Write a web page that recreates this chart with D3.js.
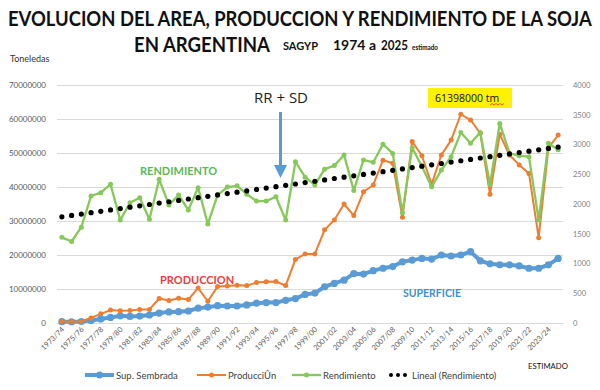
<!DOCTYPE html>
<html><head><meta charset="utf-8">
<script src="https://cdn.jsdelivr.net/npm/d3@7"></script>
<style>
html,body{margin:0;padding:0;background:#fff;}
svg{display:block;font-family:Lato,"Open Sans",sans-serif;}
</style></head>
<body><svg id="c" width="600" height="390"></svg>
<script>
const campaigns = ["1973/74","1974/75","1975/76","1976/77","1977/78","1978/79","1979/80","1980/81","1981/82","1982/83",
"1983/84","1984/85","1985/86","1986/87","1987/88","1988/89","1989/90","1990/91","1991/92","1992/93",
"1993/94","1994/95","1995/96","1996/97","1997/98","1998/99","1999/00","2000/01","2001/02","2002/03",
"2003/04","2004/05","2005/06","2006/07","2007/08","2008/09","2009/10","2010/11","2011/12","2012/13",
"2013/14","2014/15","2015/16","2016/17","2017/18","2018/19","2019/20","2020/21","2021/22","2022/23",
"2023/24","2024/25"];
// Sup. Sembrada (ha)
const supSembrada = [380000,370000,440000,710000,1200000,1640000,2100000,1930000,2040000,2360000,
2920000,3270000,3340000,3530000,4370000,4670000,5100000,5000000,5000000,5320000,
5820000,6010000,6000000,6670000,7180000,8400000,8790000,10660000,11640000,12600000,
14500000,14400000,15400000,16100000,16600000,18000000,18500000,19000000,18800000,20000000,
19700000,20000000,21000000,18300000,17400000,17100000,17100000,16800000,16100000,16100000,
17100000,19000000];
// Producción (t)
const produccion = [450000,400000,500000,1500000,2700000,3800000,3600000,3700000,4000000,4000000,
7200000,6600000,7300000,6900000,10300000,6400000,10700000,10900000,11100000,11000000,
11900000,12100000,12200000,11000000,18700000,20300000,20300000,27400000,30300000,35000000,
31600000,38600000,40600000,47900000,47000000,31100000,53400000,49200000,40800000,49400000,
53800000,61398000,59700000,55800000,37900000,55500000,49400000,46500000,44000000,25100000,
51500000,55300000];
// Rendimiento (kg/ha)
const rendimiento = [1440,1370,1610,2135,2190,2330,1730,2020,2105,1745,
2415,1985,2150,1900,2275,1665,2150,2285,2305,2165,
2050,2050,2120,1730,2710,2450,2320,2585,2645,2825,
2225,2740,2700,3005,2850,1855,2945,2630,2290,2570,
2795,3200,3020,3200,2330,3355,2855,2810,2795,1730,
3020,2910];
const leftTicks = [0,10000000,20000000,30000000,40000000,50000000,60000000,70000000];
const rightTicks = [0,500,1000,1500,2000,2500,3000,3500,4000];
const legendLabels = ["Sup. Sembrada","ProducciÛn","Rendimiento","Lineal (Rendimiento)"];

const C_BLUE="#5b9bd5", C_OR="#ed7d31", C_GR="#86c85a";
const svg = d3.select("#c");
const L=57, R=563, T=85, B=323;

const x = d3.scaleBand().domain(campaigns).range([L,R]).padding(0);
const cx = d => x(d)+x.bandwidth()/2;
const yL = d3.scaleLinear().domain([0,70000000]).range([B,T]);
const yR = d3.scaleLinear().domain([0,4000]).range([B,T]);

// text squeezed horizontally to a given width via transform
function fitText(str, x0, y0, w, size, weight, fill){
  const t = svg.append("text").attr("x",0).attr("y",0).attr("font-size",size)
    .attr("font-weight",weight||400).attr("fill",fill||"#111").text(str);
  const nat = t.node().getComputedTextLength();
  t.attr("transform",`translate(${x0},${y0}) scale(${w/nat},1)`);
  return t;
}

// Title
fitText("EVOLUCION DEL AREA, PRODUCCION Y RENDIMIENTO DE LA SOJA", 8, 26, 584, 21, 700);
fitText("EN ARGENTINA", 134, 52, 136, 21, 700);
fitText("SAGYP", 283, 50, 35, 11, 700);
fitText("1974 a", 333, 50, 43, 14, 700);
fitText("2025", 381, 50, 27, 14, 700);
fitText("estimado", 412, 50, 26, 7.5, 700);
svg.append("text").attr("x",10).attr("y",62).attr("font-size",9).attr("fill","#333").text("Toneledas");

// Gridlines
svg.append("g").attr("transform",`translate(${L},0)`)
  .call(d3.axisLeft(yL).tickValues(leftTicks).tickSize(-(R-L)).tickFormat(""))
  .call(g=>g.select(".domain").remove())
  .call(g=>g.selectAll("line").attr("stroke","#d9d9d9").attr("stroke-width",1));
// Left axis labels
svg.append("g").attr("transform",`translate(49,0)`)
  .call(d3.axisLeft(yL).tickValues(leftTicks).tickSize(0).tickFormat(d3.format("d")))
  .call(g=>g.select(".domain").remove())
  .call(g=>g.selectAll("text").attr("font-size",8).attr("fill","#595959").attr("font-family","Lato,sans-serif"));
// Right axis labels
svg.append("g").attr("transform",`translate(570,0)`)
  .call(d3.axisRight(yR).tickValues(rightTicks).tickSize(0).tickFormat(d3.format("d")))
  .call(g=>g.select(".domain").remove())
  .call(g=>g.selectAll("text").attr("font-size",7.5).attr("fill","#7f7f7f").attr("font-family","Lato,sans-serif"));
// X axis
const xa = svg.append("g").attr("transform",`translate(0,${B})`)
  .call(d3.axisBottom(x).tickValues(campaigns.filter((d,i)=>i%2===0)).tickSize(0))
  .call(g=>g.select(".domain").attr("stroke","#d9d9d9"));
xa.selectAll("text").attr("font-size",7.5).attr("fill","#595959").attr("font-family","Lato,sans-serif")
  .attr("text-anchor","end").attr("dy",null).attr("y",0)
  .attr("transform","translate(3,7) rotate(-45)");

// Series
function series(vals, y, color, lw, r){
  const g = svg.append("g");
  g.append("path").datum(vals).attr("fill","none").attr("stroke",color).attr("stroke-width",lw)
    .attr("stroke-linejoin","round")
    .attr("d", d3.line().x((d,i)=>cx(campaigns[i])).y(d=>y(d)));
  g.selectAll("circle").data(vals).join("circle").attr("cx",(d,i)=>cx(campaigns[i])).attr("cy",d=>y(d))
    .attr("r",r).attr("fill",color);
}
series(supSembrada, yL, C_BLUE, 4, 3.6);
series(produccion, yL, C_OR, 2, 2.5);
series(rendimiento, yR, C_GR, 2.3, 2.5);

// Linear trend of rendimiento
const n = rendimiento.length;
const xm = d3.mean(d3.range(n)), ym = d3.mean(rendimiento);
const slope = d3.sum(d3.range(n),i=>(i-xm)*(rendimiento[i]-ym))/d3.sum(d3.range(n),i=>(i-xm)*(i-xm));
const icpt = ym - slope*xm;
svg.append("g").selectAll("circle").data(d3.range(n)).join("circle")
  .attr("cx",i=>cx(campaigns[i])).attr("cy",i=>yR(icpt+slope*i)).attr("r",2.6).attr("fill","#000");

// Annotations
svg.append("text").attr("x",281).attr("y",103).attr("text-anchor","middle").attr("font-size",15)
  .attr("fill","#222").attr("font-family","'Open Sans',sans-serif").text("RR + SD");
svg.append("line").attr("x1",280.5).attr("x2",280.5).attr("y1",112).attr("y2",167)
  .attr("stroke",C_BLUE).attr("stroke-width",3);
svg.append("path").attr("d","M274,165 L287,165 L280.5,178 Z").attr("fill",C_BLUE);

svg.append("rect").attr("x",428).attr("y",88).attr("width",84).attr("height",20).attr("fill","#fff200");
svg.append("text").attr("x",435).attr("y",102).attr("font-size",10.5).attr("fill","#111")
  .attr("font-family","'Open Sans',sans-serif").text("61398000 tm");
svg.append("path").attr("d","M490,105 l2,-1.5 l2,1.5 l2,-1.5 l2,1.5 l2,-1.5 l2,1.5 l2,-1.5")
  .attr("fill","none").attr("stroke","#e03030").attr("stroke-width",0.8);

svg.append("text").attr("x",140).attr("y",175).attr("font-size",11).attr("font-weight",700)
  .attr("fill","#5cb85c").text("RENDIMIENTO");
svg.append("text").attr("x",160).attr("y",284).attr("font-size",11).attr("font-weight",700)
  .attr("fill","#e8403a").text("PRODUCCION");
svg.append("text").attr("x",403).attr("y",297).attr("font-size",10.5).attr("font-weight",700)
  .attr("fill","#3f8fd2").text("SUPERFICIE");
fitText("ESTIMADO", 528, 369, 40, 8, 400, "#111");

// Legend
const lg = svg.append("g").attr("font-size",9.5).attr("fill","#595959");
const ly = 375;
const items = [
  {x:85, c:C_BLUE, w:4, r:3.5, t:legendLabels[0]},
  {x:197, c:C_OR, w:2, r:2.5, t:legendLabels[1]},
  {x:292, c:C_GR, w:2.3, r:2.5, t:legendLabels[2]}
];
items.forEach(it=>{
  lg.append("line").attr("x1",it.x).attr("x2",it.x+29).attr("y1",ly).attr("y2",ly).attr("stroke",it.c).attr("stroke-width",it.w);
  lg.append("circle").attr("cx",it.x+14.5).attr("cy",ly).attr("r",it.r).attr("fill",it.c);
  lg.append("text").attr("x",it.x+31).attr("y",ly+3.5).attr("fill","#404040").text(it.t);
});
[391,398,405].forEach(px=>lg.append("circle").attr("cx",px).attr("cy",ly).attr("r",2).attr("fill","#000"));
lg.append("text").attr("x",412).attr("y",ly+3.5).attr("fill","#404040").text(legendLabels[3]);
</script></body></html>
